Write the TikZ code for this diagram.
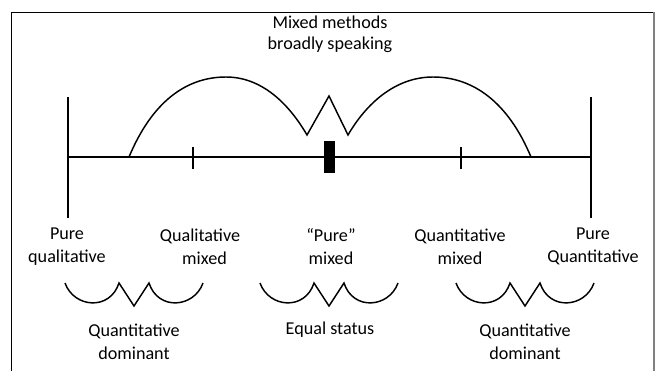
\documentclass[tikz,border=0pt]{standalone}
\usepackage{fontspec}
\setmainfont{Carlito}
\usetikzlibrary{arrows.meta}

\tikzset{
  lbl/.style={align=center,font=\fontsize{13.6}{17.25}\selectfont},
  curve/.style={line width=1.1pt,line join=miter},
}

\begin{document}
\begin{tikzpicture}[x=0.75pt,y=-0.75pt,>=Latex]
  \useasboundingbox (0,0) rectangle (657,371);
  \draw[line width=0.9pt] (11.7,371) -- (11.7,12.3) -- (654,12.3);
  \draw[line width=0.9pt,gray] (654,12.3) -- (654,371);

  \node[lbl,font=\fontsize{13.6}{15.5}\selectfont] (title) at (330,34) {Mixed methods\\broadly speaking};

  \draw[curve] (68,157) -- (591,157);
  \draw[curve] (68,97) -- (68,218);
  \draw[curve] (591,97) -- (591,218);
  \foreach \x in {193,461}{
    \draw[line width=0.9pt] (\x,147) -- (\x,169);
  }
  \fill (324,141) rectangle (335,173);

  \draw[curve] (129,157) .. controls (152,102) and (186,77) .. (226,77)
    .. controls (262,77) and (289,104) .. (307,135)
    -- (329,96) -- (348,135)
    .. controls (366,104) and (395,77) .. (433,77)
    .. controls (473,77) and (508,102) .. (531,157);

  \node[lbl] (purequal) at (67,246.5) {Pure\\qualitative};
  \node[lbl] (qualmix) at (200,246.5) {Qualitative\\\hspace*{0.5em}mixed};
  \node[lbl] (puremix) at (331,246.5) {“Pure”\\mixed};
  \node[lbl] (quantmix) at (460,246.5) {Quantitative\\mixed};
  \node[lbl] (purequant) at (593,246.5) {Pure\\Quantitative};

  \foreach \c in {134,329,525}{
    \draw[curve] ({\c-69},283) .. controls ({\c-60},308) and ({\c-24},311) .. ({\c-15},283)
      -- (\c,306) -- ({\c+15},283) .. controls ({\c+24},311) and ({\c+60},308) .. ({\c+69},283);
  }

  \node[lbl] (quantdom1) at (134,341.5) {Quantitative\\dominant};
  \node[lbl] (equal) at (330,330) {Equal status};
  \node[lbl] (quantdom2) at (525,341.5) {Quantitative\\dominant};
\end{tikzpicture}
\end{document}
